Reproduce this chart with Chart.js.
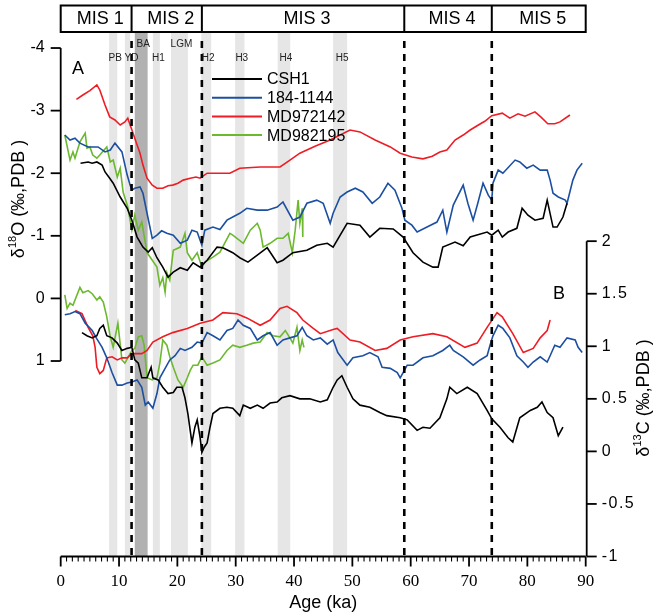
<!DOCTYPE html>
<html>
<head>
<meta charset="utf-8">
<script src="https://cdn.jsdelivr.net/npm/chart.js@4.4.1/dist/chart.umd.min.js"></script>
<style>
  html, body { margin: 0; padding: 0; background: #fff; }
  #wrap { width: 654px; height: 614px; }
</style>
</head>
<body>
<div id="wrap"><canvas id="chart" width="654" height="614"></canvas></div>
<script>
// ---- data (age ka, per mil) ----
const csh1_d18O = [[3.4,-2.16],[4.7,-2.18],[5.4,-2.16],[6.2,-2.18],[7.1,-2.13],[7.6,-2.02],[8.4,-1.92],[9.0,-1.84],[10.2,-1.62],[11.4,-1.44],[12.2,-1.25],[13.1,-0.98],[14.1,-0.82],[15.0,-0.74],[15.7,-0.81],[16.5,-0.65],[17.5,-0.50],[18.4,-0.34],[19.3,-0.42],[20.5,-0.49],[21.7,-0.45],[22.7,-0.57],[23.9,-0.50],[25.1,-0.61],[26.8,-0.82],[27.8,-0.81],[29.5,-0.73],[30.7,-0.65],[32.1,-0.58],[33.7,-0.69],[35.4,-0.81],[37.1,-0.57],[38.1,-0.61],[39.8,-0.73],[42.2,-0.77],[43.9,-0.85],[45.7,-0.88],[46.7,-0.82],[49.1,-1.20],[51.3,-1.17],[53.0,-0.98],[54.7,-1.12],[57.0,-1.11],[58.7,-0.98],[60.4,-0.73],[62.1,-0.58],[63.8,-0.50],[64.7,-0.50],[65.5,-0.82],[67.6,-0.90],[69.0,-0.84],[70.2,-0.98],[73.1,-1.06],[73.9,-1.01],[75.0,-1.09],[75.7,-0.98],[76.7,-1.06],[78.2,-1.12],[79.1,-1.44],[80.1,-1.33],[81.3,-1.25],[82.7,-1.28],[83.4,-1.57],[84.4,-1.14],[85.1,-1.14],[86.1,-1.30],[86.8,-1.52]];
const odp1144_d18O = [[0.7,-2.61],[1.6,-2.53],[2.45,-2.56],[3.3,-2.48],[4.7,-2.42],[6.4,-2.42],[7.6,-2.34],[8.5,-2.37],[9.3,-2.48],[10.5,-2.34],[11.4,-1.97],[11.9,-1.81],[12.2,-1.73],[12.7,-1.76],[13.6,-1.78],[14.1,-1.68],[14.8,-1.36],[15.7,-0.96],[16.5,-1.01],[17.3,-1.08],[18.2,-1.04],[19.3,-1.01],[20.5,-0.88],[21.7,-0.93],[22.5,-1.09],[23.4,-1.06],[24.2,-0.85],[24.7,-1.09],[26.1,-1.14],[27.3,-1.10],[28.5,-1.25],[30.7,-1.36],[31.9,-1.44],[33.7,-1.41],[35.4,-1.41],[37.1,-1.46],[38.1,-1.54],[39.8,-1.25],[41.0,-1.30],[42.2,-1.52],[43.9,-1.57],[45.0,-1.52],[46.2,-1.20],[46.7,-1.36],[47.9,-1.62],[49.1,-1.70],[50.5,-1.76],[51.8,-1.70],[53.4,-1.52],[54.7,-1.62],[56.1,-1.84],[57.3,-1.73],[58.5,-1.44],[59.0,-1.25],[60.2,-1.17],[61.1,-1.06],[62.8,-1.14],[64.5,-1.22],[65.5,-1.41],[66.2,-1.06],[67.3,-1.49],[69.0,-1.81],[69.8,-1.52],[70.7,-1.25],[71.5,-1.52],[72.4,-1.84],[73.3,-1.65],[73.9,-1.57],[74.1,-1.84],[75.0,-2.05],[75.8,-2.00],[77.9,-2.21],[78.7,-2.18],[79.9,-2.08],[81.0,-2.13],[82.2,-2.05],[83.4,-2.05],[83.9,-1.89],[84.4,-1.68],[85.3,-1.62],[86.5,-1.57],[86.8,-1.52],[87.8,-1.89],[88.5,-2.05],[89.4,-2.16]];
const md972142_d18O = [[2.7,-3.18],[3.8,-3.25],[5.0,-3.32],[6.2,-3.41],[6.7,-3.33],[7.6,-3.09],[8.4,-2.90],[9.3,-2.85],[10.2,-2.77],[11.0,-2.82],[11.5,-2.88],[12.4,-2.64],[13.1,-2.45],[13.6,-2.32],[14.1,-2.13],[14.8,-1.92],[15.7,-1.81],[16.5,-1.76],[17.5,-1.76],[18.4,-1.80],[19.2,-1.81],[20.1,-1.84],[21.0,-1.89],[22.2,-1.92],[23.2,-1.94],[23.9,-1.92],[25.1,-2.00],[26.5,-2.00],[29.0,-2.00],[30.7,-2.08],[34.2,-2.10],[37.6,-2.10],[39.3,-2.21],[41.0,-2.32],[43.6,-2.43],[46.2,-2.53],[47.9,-2.61],[49.6,-2.69],[51.3,-2.66],[53.9,-2.53],[56.5,-2.42],[58.2,-2.32],[60.2,-2.26],[62.1,-2.23],[63.7,-2.27],[65.0,-2.34],[66.2,-2.37],[67.6,-2.53],[69.0,-2.61],[70.2,-2.69],[71.6,-2.77],[72.7,-2.83],[73.9,-2.92],[75.7,-2.96],[77.0,-2.88],[78.4,-2.95],[79.6,-2.91],[81.3,-2.98],[82.3,-2.90],[83.5,-2.79],[84.7,-2.79],[85.6,-2.82],[87.3,-2.93]];
const md982195_d18O = [[0.7,-2.61],[1.6,-2.21],[2.1,-2.34],[2.45,-2.24],[3.3,-2.50],[4.2,-2.64],[4.5,-2.40],[5.0,-2.42],[5.5,-2.29],[6.2,-2.24],[6.7,-2.29],[7.9,-2.42],[8.5,-2.18],[9.0,-2.21],[9.7,-1.94],[10.2,-2.08],[10.7,-1.70],[11.5,-1.46],[12.2,-1.09],[12.7,-1.33],[13.3,-1.09],[13.9,-1.22],[14.8,-0.73],[15.7,-0.61],[16.5,-0.50],[17.0,-0.21],[17.5,-0.33],[17.9,-0.10],[18.2,-0.41],[18.7,-0.29],[19.3,-0.77],[20.5,-0.82],[21.3,-1.04],[21.7,-0.73],[22.5,-0.61],[23.4,-0.73],[24.2,-0.50],[24.7,-0.58],[26.1,-0.66],[27.3,-0.74],[29.0,-1.04],[29.5,-1.01],[31.3,-0.88],[32.5,-1.09],[33.7,-1.20],[34.2,-1.09],[34.7,-0.82],[35.9,-0.88],[37.1,-0.96],[38.1,-0.96],[39.0,-1.04],[39.7,-0.73],[40.2,-1.09],[40.7,-1.57],[41.0,-1.20],[41.4,-1.44],[41.5,-0.98]];

const csh1_d13C = [[3.65,1.13],[4.5,1.10],[5.4,1.08],[6.2,1.10],[6.7,1.17],[7.3,1.20],[7.9,1.10],[8.8,1.08],[9.7,1.03],[10.5,0.96],[11.4,0.98],[12.2,0.99],[12.7,0.87],[13.3,0.84],[13.9,0.70],[14.8,0.70],[15.5,0.80],[15.8,0.70],[16.7,0.68],[17.5,0.61],[18.4,0.55],[19.3,0.56],[19.9,0.61],[20.8,0.61],[21.3,0.51],[21.8,0.36],[22.5,0.08],[23.0,0.23],[23.4,0.30],[23.9,0.13],[24.2,-0.01],[24.6,0.04],[25.1,0.08],[25.6,0.23],[26.1,0.36],[27.3,0.41],[28.5,0.42],[29.5,0.41],[30.7,0.34],[31.3,0.44],[32.5,0.41],[33.7,0.44],[34.7,0.41],[35.9,0.46],[37.1,0.47],[37.9,0.51],[39.3,0.53],[41.0,0.50],[42.7,0.50],[44.5,0.47],[45.7,0.49],[46.7,0.61],[47.4,0.68],[48.2,0.72],[49.1,0.61],[50.1,0.50],[51.3,0.44],[53.0,0.42],[54.7,0.37],[55.9,0.34],[58.2,0.32],[59.4,0.30],[61.1,0.20],[62.1,0.23],[63.3,0.22],[65.0,0.32],[66.2,0.50],[66.7,0.61],[67.9,0.55],[69.7,0.61],[71.4,0.55],[73.1,0.39],[73.9,0.31],[75.3,0.23],[76.7,0.13],[77.5,0.09],[78.7,0.32],[80.5,0.39],[81.7,0.42],[82.5,0.47],[83.4,0.37],[84.4,0.32],[85.3,0.15],[86.1,0.23]];
const odp1144_d13C = [[0.7,1.30],[1.6,1.31],[2.45,1.33],[3.3,1.31],[4.2,1.22],[5.4,1.15],[6.2,1.07],[7.1,0.99],[7.9,0.89],[8.8,0.75],[9.7,0.63],[10.5,0.63],[11.4,0.65],[12.2,0.66],[13.1,0.68],[13.9,0.61],[14.5,0.44],[15.0,0.47],[15.8,0.41],[16.5,0.55],[17.0,0.70],[17.9,0.79],[18.7,0.87],[19.6,0.91],[20.5,0.98],[21.3,0.96],[22.5,0.99],[23.4,1.04],[24.2,1.03],[25.1,1.13],[26.1,1.10],[27.3,1.06],[28.5,1.15],[29.5,1.17],[30.4,1.25],[31.3,1.20],[32.5,1.17],[33.7,1.06],[34.7,1.10],[35.9,1.13],[37.1,1.01],[38.1,1.06],[39.3,1.08],[40.5,1.10],[41.4,1.18],[42.2,1.10],[43.3,1.06],[44.5,1.08],[45.7,1.02],[46.7,1.06],[47.5,0.94],[49.1,0.82],[50.1,0.89],[51.8,0.91],[53.0,0.94],[54.4,0.90],[55.1,0.80],[56.5,0.79],[57.7,0.75],[58.2,0.70],[58.7,0.75],[59.4,0.82],[60.4,0.82],[62.1,0.89],[63.8,0.91],[65.5,0.96],[66.7,1.01],[67.3,0.96],[69.0,0.90],[70.7,0.82],[71.9,0.87],[73.1,0.91],[73.6,1.01],[74.1,1.10],[75.0,1.20],[75.8,1.17],[77.0,1.08],[78.2,0.91],[79.3,0.85],[80.1,0.80],[81.0,0.85],[82.2,0.90],[83.4,0.85],[83.9,0.91],[84.7,1.01],[85.6,0.99],[86.8,1.08],[88.2,1.06],[88.7,0.99],[89.4,0.94]];
const md972142_d13C = [[2.5,1.34],[3.65,1.31],[4.7,1.18],[5.5,1.10],[5.9,0.99],[6.2,0.80],[6.7,0.74],[7.3,0.77],[7.9,0.89],[8.8,0.90],[9.7,0.87],[10.5,0.89],[11.4,0.89],[12.2,0.93],[13.1,0.93],[13.9,0.93],[14.8,0.96],[15.8,1.04],[17.5,1.09],[19.2,1.13],[21.7,1.17],[23.9,1.22],[26.1,1.25],[27.8,1.32],[30.2,1.31],[31.9,1.27],[34.2,1.20],[35.9,1.25],[37.6,1.36],[38.8,1.38],[40.5,1.32],[41.5,1.25],[43.3,1.17],[44.5,1.12],[46.7,1.16],[47.4,1.17],[49.6,1.06],[51.3,1.04],[53.9,0.96],[55.9,0.98],[58.2,1.06],[60.4,1.09],[63.8,1.12],[66.2,1.09],[69.3,0.99],[71.4,1.03],[73.1,1.18],[74.8,1.32],[75.7,1.28],[77.5,1.12],[79.3,0.94],[81.0,0.98],[82.2,1.08],[83.4,1.15],[83.9,1.25]];
const md982195_d13C = [[0.7,1.49],[1.1,1.36],[1.6,1.41],[2.1,1.39],[3.3,1.56],[3.8,1.51],[4.7,1.53],[5.4,1.50],[6.2,1.44],[6.7,1.47],[7.3,1.42],[7.9,1.28],[8.5,1.09],[9.0,0.99],[9.8,1.22],[10.5,0.87],[11.0,0.84],[11.5,0.89],[12.2,0.96],[12.7,0.98],[13.3,1.09],[13.9,1.10],[14.3,1.01],[14.8,0.70],[15.7,0.68],[16.5,0.70],[17.0,0.84],[17.5,1.06],[18.2,1.01],[18.7,0.90],[19.3,0.80],[20.1,0.68],[21.0,0.61],[21.7,0.70],[22.2,0.77],[22.7,0.82],[23.5,0.82],[24.2,0.90],[25.1,0.82],[26.1,0.84],[27.3,0.87],[28.5,0.96],[29.5,1.01],[30.7,0.99],[31.9,1.01],[33.0,1.03],[34.2,1.04],[35.4,1.13],[36.4,1.10],[37.6,1.09],[38.5,1.15],[39.3,1.08],[39.8,1.03],[40.5,1.18],[41.0,0.96],[41.4,1.06],[41.7,0.99]];

const seriesNames = ['CSH1', '184-1144', 'MD972142', 'MD982195'];
const seriesColors = ['#000000', '#1c4fa1', '#ee1c24', '#6cb82f'];

// events (ka)
const bandNames = ['PB', 'YD', 'BA', 'H1', 'LGM', 'H2', 'H3', 'H4', 'H5'];
const bandStart = [8.3, 11.0, 12.7, 15.8, 18.9, 24.1, 29.9, 37.2, 46.7];
const bandEnd   = [9.7, 11.9, 14.9, 17.0, 21.8, 25.8, 31.5, 39.35, 49.1];
const misNames  = ['MIS 1', 'MIS 2', 'MIS 3', 'MIS 4', 'MIS 5'];
const misBounds = [0, 12.15, 24.2, 58.9, 73.9, 90];

const xTicks = [0, 10, 20, 30, 40, 50, 60, 70, 80, 90];
const yLeftTicks = [-4, -3, -2, -1, 0, 1];
const yRightTicks = [2, 1.5, 1, 0.5, 0, -0.5, -1];

const SANS = '"Liberation Sans", Arial, sans-serif';
const SERIF = '"Liberation Serif", "DejaVu Serif", serif';

function toXY(arr) {
    return arr.map(p => ({ x: p[0], y: p[1] }));
}

function ds(label, data, color, axis) {
    return {
        label: label,
        data: toXY(data),
        borderColor: color,
        borderWidth: 1.6,
        pointRadius: 0,
        tension: 0,
        fill: false,
        yAxisID: axis
    };
}

function drawSup(ctx, parts) {
    // parts: [text, size, dy]
    let w = 0;
    parts.forEach(p => { ctx.font = p[1] + 'px ' + SANS; w += ctx.measureText(p[0]).width; });
    let x = -w / 2;
    parts.forEach(p => {
        ctx.font = p[1] + 'px ' + SANS;
        ctx.fillText(p[0], x, p[2]);
        x += ctx.measureText(p[0]).width;
    });
}

const decor = {
    id: 'decor',
    beforeDatasetsDraw(chart) {
        const { ctx, chartArea: a, scales: { x } } = chart;
        ctx.save();
        bandNames.forEach((n, i) => {
            const x0 = x.getPixelForValue(bandStart[i]);
            const x1 = x.getPixelForValue(bandEnd[i]);
            ctx.fillStyle = n === 'BA' ? '#b1b1b1' : '#e6e6e6';
            ctx.fillRect(x0, a.top, x1 - x0, a.bottom - a.top);
        });
        ctx.restore();
    },
    afterDatasetsDraw(chart) {
        const { ctx, chartArea: a, scales: { x, yL, yR } } = chart;
        ctx.save();

        // MIS boundaries dashed
        ctx.strokeStyle = '#000';
        ctx.lineWidth = 2.6;
        ctx.setLineDash([7, 6]);
        misBounds.slice(1, -1).forEach(b => {
            const px = x.getPixelForValue(b);
            ctx.beginPath();
            ctx.moveTo(px, 41);
            ctx.lineTo(px, a.bottom);
            ctx.stroke();
        });
        ctx.setLineDash([]);

        // MIS box
        const boxTop = 5.5, boxBot = a.top;
        ctx.lineWidth = 2;
        ctx.strokeRect(x.getPixelForValue(0), boxTop, x.getPixelForValue(90) - x.getPixelForValue(0), boxBot - boxTop);
        ctx.fillStyle = '#000';
        ctx.font = '18px ' + SANS;
        ctx.textAlign = 'center';
        ctx.textBaseline = 'middle';
        misNames.forEach((n, i) => {
            const p0 = x.getPixelForValue(misBounds[i]);
            const p1 = x.getPixelForValue(misBounds[i + 1]);
            if (i > 0) {
                ctx.beginPath();
                ctx.moveTo(p0, boxTop);
                ctx.lineTo(p0, boxBot);
                ctx.stroke();
            }
            ctx.fillText(n, (p0 + p1) / 2 + 4, 19.5);
        });

        // event labels
        ctx.font = '10px ' + SANS;
        ctx.fillStyle = '#222';
        bandNames.forEach((n, i) => {
            const c = x.getPixelForValue((bandStart[i] + bandEnd[i]) / 2) + 2;
            const yy = (n === 'BA' || n === 'LGM') ? 44 : 58;
            ctx.fillText(n, n === 'YD' ? c + 2 : c, yy);
        });

        // x axis
        ctx.strokeStyle = '#000';
        ctx.fillStyle = '#000';
        ctx.lineWidth = 1.8;
        const x0 = x.getPixelForValue(0), x90 = x.getPixelForValue(90);
        ctx.beginPath();
        ctx.moveTo(x0, a.bottom);
        ctx.lineTo(x90, a.bottom);
        ctx.stroke();
        for (let k = 0; k <= 90; k++) {
            const px = x.getPixelForValue(k);
            const len = k % 10 === 0 ? 10 : 5;
            ctx.lineWidth = k % 10 === 0 ? 1.8 : 1.1;
            ctx.beginPath();
            ctx.moveTo(px, a.bottom);
            ctx.lineTo(px, a.bottom + len);
            ctx.stroke();
        }
        ctx.font = '17px ' + SERIF;
        xTicks.forEach(t => ctx.fillText(String(t), x.getPixelForValue(t), 582));
        ctx.font = '18px ' + SANS;
        ctx.fillText('Age (ka)', (x0 + x90) / 2, 603);

        // left axis
        ctx.lineWidth = 1.8;
        ctx.beginPath();
        ctx.moveTo(a.left, yL.getPixelForValue(-4));
        ctx.lineTo(a.left, yL.getPixelForValue(1));
        ctx.stroke();
        ctx.font = '16px ' + SANS;
        ctx.textAlign = 'right';
        yLeftTicks.forEach(t => {
            const py = yL.getPixelForValue(t);
            ctx.beginPath();
            ctx.moveTo(a.left - 10, py);
            ctx.lineTo(a.left, py);
            ctx.stroke();
            ctx.fillText(String(t), a.left - 16, py);
        });

        // right axis
        const rx = a.right + 1;
        ctx.beginPath();
        ctx.moveTo(rx, yR.getPixelForValue(2));
        ctx.lineTo(rx, a.bottom);
        ctx.stroke();
        ctx.textAlign = 'left';
        ctx.letterSpacing = '1.5px';
        yRightTicks.forEach(t => {
            const py = yR.getPixelForValue(t);
            ctx.beginPath();
            ctx.moveTo(rx, py);
            ctx.lineTo(rx + 10, py);
            ctx.stroke();
            ctx.fillText(String(t), rx + 15, py);
        });
        ctx.letterSpacing = '0px';

        // axis titles
        ctx.textAlign = 'left';
        ctx.save();
        ctx.translate(19, 199);
        ctx.rotate(-Math.PI / 2);
        drawSup(ctx, [['\u03b4', 18, 0], ['18', 11, -6], ['O (\u2030,PDB )', 18, 0]]);
        ctx.restore();
        ctx.save();
        ctx.translate(644, 398);
        ctx.rotate(-Math.PI / 2);
        drawSup(ctx, [['\u03b4', 18, 0], ['13', 11, -6], ['C (\u2030,PDB )', 18, 0]]);
        ctx.restore();

        // panel letters
        ctx.font = '18px ' + SANS;
        ctx.textAlign = 'center';
        ctx.fillText('A', 78, 69);
        ctx.fillText('B', 559, 294);

        // legend
        ctx.textAlign = 'left';
        ctx.font = '16px ' + SANS;
        seriesNames.forEach((n, i) => {
            const ly = 79 + i * 18.7;
            ctx.strokeStyle = seriesColors[i];
            ctx.lineWidth = 2;
            ctx.beginPath();
            ctx.moveTo(212, ly);
            ctx.lineTo(262, ly);
            ctx.stroke();
            ctx.fillStyle = '#000';
            ctx.fillText(n, 267, ly + 1);
        });

        ctx.restore();
    }
};

new Chart(document.getElementById('chart'), {
    type: 'line',
    data: {
        datasets: [
            ds(seriesNames[0], csh1_d18O, seriesColors[0], 'yL'),
            ds(seriesNames[1], odp1144_d18O, seriesColors[1], 'yL'),
            ds(seriesNames[2], md972142_d18O, seriesColors[2], 'yL'),
            ds(seriesNames[3], md982195_d18O, seriesColors[3], 'yL'),
            ds(seriesNames[0], csh1_d13C, seriesColors[0], 'yR'),
            ds(seriesNames[1], odp1144_d13C, seriesColors[1], 'yR'),
            ds(seriesNames[2], md972142_d13C, seriesColors[2], 'yR'),
            ds(seriesNames[3], md982195_d13C, seriesColors[3], 'yR')
        ]
    },
    options: {
        responsive: false,
        animation: false,
        devicePixelRatio: 1,
        layout: { padding: { left: 60.7, right: 68.3, top: 32, bottom: 57.5 } },
        plugins: { legend: { display: false }, tooltip: { enabled: false } },
        scales: {
            x: { type: 'linear', min: 0, max: 90, display: false },
            yL: { type: 'linear', position: 'left', min: -4.256, max: 4.123, reverse: true, display: false },
            yR: { type: 'linear', position: 'right', min: -1, max: 3.99, display: false }
        }
    },
    plugins: [decor]
});
</script>
</body>
</html>
